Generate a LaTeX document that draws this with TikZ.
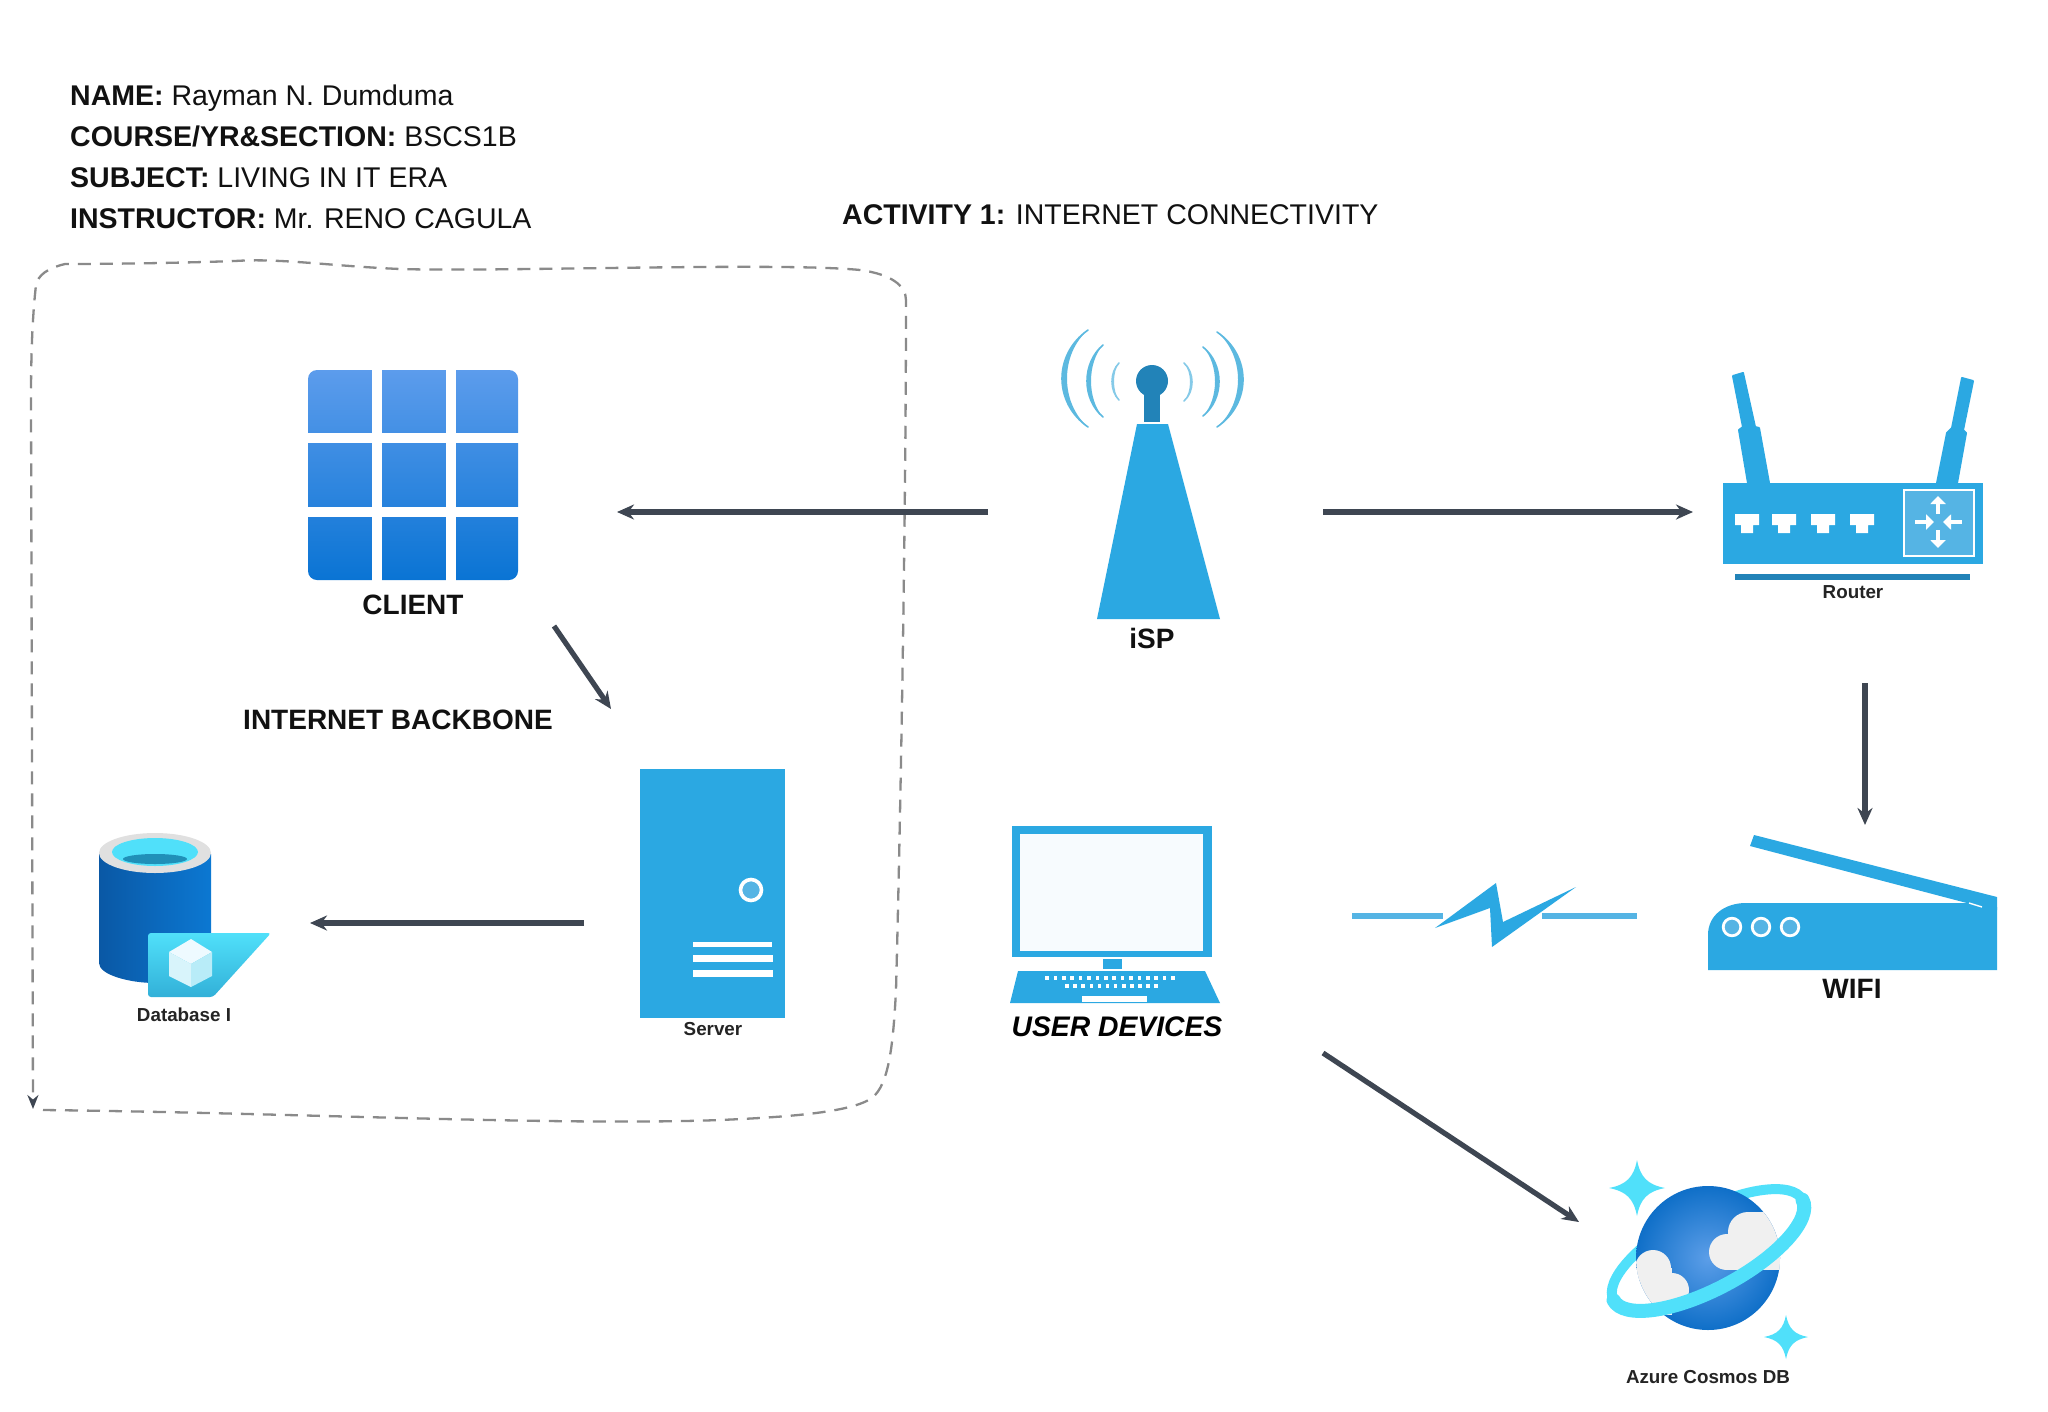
\documentclass[tikz,border=0pt]{standalone}
\usepackage{fontspec}
\setmainfont{Liberation Sans}
\usetikzlibrary{arrows.meta,calc}
\definecolor{iconblue}{HTML}{2BA8E2}
\definecolor{icondark}{HTML}{2283B8}
\definecolor{iconlight}{HTML}{55B4E4}
\definecolor{wavec}{HTML}{5CB9E0}
\definecolor{cyanc}{HTML}{50E0FA}
\definecolor{arrowc}{HTML}{3E4652}
\definecolor{dashc}{HTML}{8A8A8A}
\definecolor{textc}{HTML}{111111}
\definecolor{gridtop}{HTML}{5C9CEC}
\definecolor{gridbot}{HTML}{0A74D4}
\definecolor{dbleft}{HTML}{0A58A5}
\definecolor{dbright}{HTML}{0C78D2}
\definecolor{dbwater}{HTML}{2090B8}
\definecolor{flapbot}{HTML}{32B0D8}
\definecolor{cubetop}{HTML}{EEFAFF}
\definecolor{cubeleft}{HTML}{D8F4FB}
\definecolor{cuberight}{HTML}{B8ECF8}
\definecolor{screenc}{HTML}{F7FBFE}
\definecolor{globein}{HTML}{5C9EE8}
\definecolor{globeout}{HTML}{0F6FC8}
\tikzset{
  conn/.style={draw=arrowc,line width=5.2pt,-{Stealth[length=17pt,width=15pt]}},
  dashbox/.style={draw=dashc,line width=2.3pt,dash pattern=on 13pt off 9pt,-{Stealth[length=14pt,width=11pt,color=arrowc]}},
  head/.style={anchor=base west,inner sep=0pt,text=textc,font=\fontsize{28.5}{30}\selectfont},
  lab/.style={anchor=base,inner sep=0pt,text=textc,font=\fontsize{28}{30}\selectfont\bfseries},
  smalllab/.style={anchor=base,inner sep=0pt,text=textc!92,font=\fontsize{18.8}{20}\selectfont\bfseries},
  ic/.style={fill=iconblue},
  whitearr/.style={draw=white,line width=4.4pt,-{Triangle[length=8pt,width=15pt]}},
}
\newcommand{\wave}[6][wavec]{%
  \pgfmathsetmacro{\cxa}{#2+4/3*(#5-#2)}%
  \pgfmathsetmacro{\cxb}{#2+4/3*(#6-#2)}%
  \pgfmathsetmacro{\ya}{#3+(#4-#3)/4}%
  \pgfmathsetmacro{\yb}{#4-(#4-#3)/4}%
  \fill[#1] (#2,#3) .. controls (\cxa,\ya) and (\cxa,\yb) .. (#2,#4) .. controls (\cxb,\yb) and (\cxb,\ya) .. (#2,#3) -- cycle;
  \draw[#1,line width=1.6pt,line cap=round] (#2,#3) .. controls (\cxa,\ya) and (\cxa,\yb) .. (#2,#4);
}
\newcommand{\sparkle}[3]{%
  \fill[cyanc] (#1,#2-#3) .. controls (#1+0.12*#3,#2-0.38*#3) and (#1+0.38*#3,#2-0.12*#3) .. (#1+#3,#2)
   .. controls (#1+0.38*#3,#2+0.12*#3) and (#1+0.12*#3,#2+0.38*#3) .. (#1,#2+#3)
   .. controls (#1-0.12*#3,#2+0.38*#3) and (#1-0.38*#3,#2+0.12*#3) .. (#1-#3,#2)
   .. controls (#1-0.38*#3,#2-0.12*#3) and (#1-0.12*#3,#2-0.38*#3) .. (#1,#2-#3) -- cycle;
}
\newcommand{\porticon}[1]{%
  \fill[white] (#1-12,514) -- (#1+12,514) -- (#1+12,525) -- (#1+6,525) -- (#1+6,533) -- (#1-6,533) -- (#1-6,525) -- (#1-12,525) -- cycle;
}
\begin{document}
\begin{tikzpicture}[x=1pt,y=-1pt]
\useasboundingbox (0,0) rectangle (2048,1411);
\fill[white] (0,0) rectangle (2048,1411);

% header text
\node[head] (hname) at (70,105) {\textbf{NAME:} Rayman N. Dumduma};
\node[head] (hcourse) at (70,146) {\textbf{COURSE/YR\&SECTION:} BSCS1B};
\node[head] (hsubject) at (70,187) {\textbf{SUBJECT:} LIVING IN IT ERA};
\node[head] (hinstr) at (70,228) {\textbf{INSTRUCTOR:} Mr. RENO CAGULA};
\node[head] (hact) at (842,224) {\textbf{ACTIVITY 1:} INTERNET CONNECTIVITY};

% dashed boundary
\coordinate (dashs) at (43,1110);
\coordinate (dashe) at (33,1109);
\draw[dashbox] (dashs) .. controls (300,1113) and (560,1126) .. (720,1120)
  .. controls (790,1117) and (855,1112) .. (873,1097)
  .. controls (888,1084) and (893,1050) .. (896,990)
  .. controls (901,800) and (906,500) .. (906,300)
  .. controls (906,285) and (890,274) .. (860,270)
  .. controls (780,262) and (500,272) .. (400,269)
  .. controls (330,266) and (280,258) .. (235,261)
  .. controls (180,263) and (110,264) .. (65,264)
  .. controls (48,268) and (38,275) .. (36,285)
  .. controls (32,320) and (31,360) .. (31,400)
  -- (dashe);

% client icon
\shade[top color=gridtop,bottom color=gridbot,rounded corners=9pt] (308,370) rectangle (518,580);
\fill[white] (372,365) rectangle (382,585);
\fill[white] (445.5,365) rectangle (456,585);
\fill[white] (303,433) rectangle (523,443);
\fill[white] (303,506.5) rectangle (523,517);
\node[lab] (client) at (413,614) {CLIENT};

\node[lab] (backbone) at (398,729) {INTERNET BACKBONE};

% ISP icon
\wave{1088}{330}{427}{1062}{1067}
\wave{1103}{345}{417}{1087}{1091}
\wave[wavec!75]{1119}{363}{400}{1112}{1114}
\wave{1217}{332}{427}{1243}{1238}
\wave{1203}{347}{416}{1219}{1215}
\wave[wavec!75]{1184}{363}{401}{1192}{1190}
\fill[ic] (1137,424) -- (1168,424) -- (1220,619) -- (1097,619) -- cycle;
\fill[icondark] (1144,375) rectangle (1160,422);
\fill[icondark] (1152,381) circle (16pt);
\node[lab] (isp) at (1152,648) {iSP};

% router icon
\fill[ic,line join=round,draw=iconblue,line width=2pt] (1733,376) -- (1743,373) -- (1755,427) -- (1759,428) -- (1769,483) -- (1748,483) -- (1739,430) -- (1743,427) -- cycle;
\fill[ic,line join=round,draw=iconblue,line width=2pt] (1962,378) -- (1973,381) -- (1963,430) -- (1966,433) -- (1957,483) -- (1937,483) -- (1947,433) -- (1952,428) -- cycle;
\fill[ic] (1723,483) rectangle (1983,564);
\porticon{1747}\porticon{1784}\porticon{1823}\porticon{1862}
\draw[white,line width=1.8pt,fill=iconlight] (1904,490) rectangle (1974,556);
\draw[whitearr] (1938,514) -- (1938,496);
\draw[whitearr] (1938,530) -- (1938,548);
\draw[whitearr] (1915,522) -- (1934,522);
\draw[whitearr] (1962,522) -- (1943,522);
\fill[icondark] (1735,574) rectangle (1970,580);
\node[smalllab] (router) at (1853,598) {Router};

% database icon
\shade[left color=dbleft,right color=dbright]
  (99,854) -- (99,963) .. controls (99,975) and (130,983) .. (155,983) .. controls (180,983) and (211,975) .. (211,963) -- (211,854) -- cycle;
\fill[black!12] (155,853) ellipse [x radius=56pt,y radius=20pt];
\fill[cyanc] (155,852) ellipse [x radius=43pt,y radius=14pt];
\fill[dbwater] (155,859) ellipse [x radius=32pt,y radius=5pt];
\shade[top color=cyanc,bottom color=flapbot,rounded corners=3pt] (148,933) -- (271,933) -- (213,997) -- (148,997) -- cycle;
\fill[cubetop] (191,939) -- (212,952) -- (191,964) -- (169,952) -- cycle;
\fill[cubeleft] (169,952) -- (191,964) -- (191,987) -- (169,976) -- cycle;
\fill[cuberight] (212,952) -- (191,964) -- (191,987) -- (212,976) -- cycle;
\node[smalllab] (db) at (184,1021) {Database I};

% server icon
\fill[ic] (640,769) rectangle (785,1018);
\draw[white,line width=3.6pt,fill=iconlight] (751,890) circle (10.5pt);
\fill[white] (693,942) rectangle (772,947);
\fill[white] (693,955) rectangle (773,962);
\fill[white] (693,970) rectangle (773,977);
\node[smalllab] (server) at (713,1035) {Server};

% laptop icon
\fill[ic] (1012,826) rectangle (1212,957);
\fill[screenc] (1020,834) rectangle (1203,951);
\fill[ic] (1103,959) rectangle (1122,969);
\fill[ic] (1018,971) -- (1205,971) -- (1220,1003) -- (1010,1003) -- cycle;
\foreach \kx in {0,...,15} {\fill[white] (1047+\kx*8.4-1.8,976) rectangle +(3.6,3.6);}
\foreach \kx in {0,...,11} {\fill[white] (1067+\kx*8.1-1.8,984) rectangle +(3.6,3.6);}
\fill[white] (1082,996) rectangle (1147,1002);
\node[anchor=base,inner sep=0pt,text=black,font=\fontsize{28.3}{30}\selectfont\bfseries\itshape] (user) at (1117,1036) {USER DEVICES};

% link
\fill[iconlight] (1352,913) rectangle (1443,919);
\fill[iconlight] (1542,913) rectangle (1637,919);
\fill[ic] (1435,928) -- (1496,883) -- (1503,922) -- (1576,887) -- (1492,947) -- (1490,908) -- cycle;

% wifi icon
\fill[ic] (1708,970) -- (1708,935) .. controls (1708,915) and (1725,903) .. (1746,903) -- (1969,903) -- (1982,907) -- (1997,907) -- (1997,970) -- cycle;
\fill[ic] (1754,835) -- (1997,897) -- (1997,910) -- (1982,907) -- (1750,846) -- cycle;
\draw[white,line width=1.4pt] (1969,903) -- (1982,907);
\foreach \wx in {1732,1761,1790} {\draw[white,line width=2.8pt,fill=iconlight] (\wx,927) circle (8.8pt);}
\node[lab] (wifi) at (1852,998) {WIFI};

% cosmos icon
\begin{scope}[shift={(1708,1250)},rotate=28]
  \draw[cyanc,line width=10pt] (0,0) ellipse [x radius=107pt,y radius=39pt];
\end{scope}
\shade[inner color=globein,outer color=globeout] (1708,1258) circle (72pt);
\begin{scope}
  \clip (1708,1258) circle (72pt);
  \fill[black!6] (1727,1252) circle (18pt);
  \fill[black!6] (1748,1232) circle (20pt);
  \fill[black!6] (1727,1240) rectangle (1790,1270);
  \fill[black!6] (1748,1212) rectangle (1790,1270);
  \fill[black!6] (1672,1290) circle (17pt);
  \fill[black!6] (1653,1268) circle (18pt);
  \fill[black!6] (1620,1268) rectangle (1672,1315);
\end{scope}
\begin{scope}[shift={(1708,1250)},rotate=28]
  \draw[cyanc,line width=14pt,line cap=round] (-107,0) arc [start angle=180,end angle=360,x radius=107pt,y radius=39pt];
\end{scope}
\sparkle{1637}{1188}{28}
\sparkle{1786}{1337}{22}
\node[smalllab] (cosmos) at (1708,1383) {Azure Cosmos DB};

% connector ends
\coordinate (ispL) at (988,512);
\coordinate (clientR) at (617,512);
\coordinate (ispR) at (1323,512);
\coordinate (routerL) at (1693,512);
\coordinate (clientB) at (554,626);
\coordinate (serverT) at (611,709);
\coordinate (serverL) at (584,923);
\coordinate (dbR) at (310,923);
\coordinate (routerB) at (1865,683);
\coordinate (wifiT) at (1865,825);
\coordinate (userB) at (1323,1053);
\coordinate (cosmosL) at (1579,1222);
\draw[conn] (ispL) -- (clientR);
\draw[conn] (ispR) -- (routerL);
\draw[conn] (clientB) -- (serverT);
\draw[conn] (serverL) -- (dbR);
\draw[conn] (routerB) -- (wifiT);
\draw[conn] (userB) -- (cosmosL);
\end{tikzpicture}
\end{document}
